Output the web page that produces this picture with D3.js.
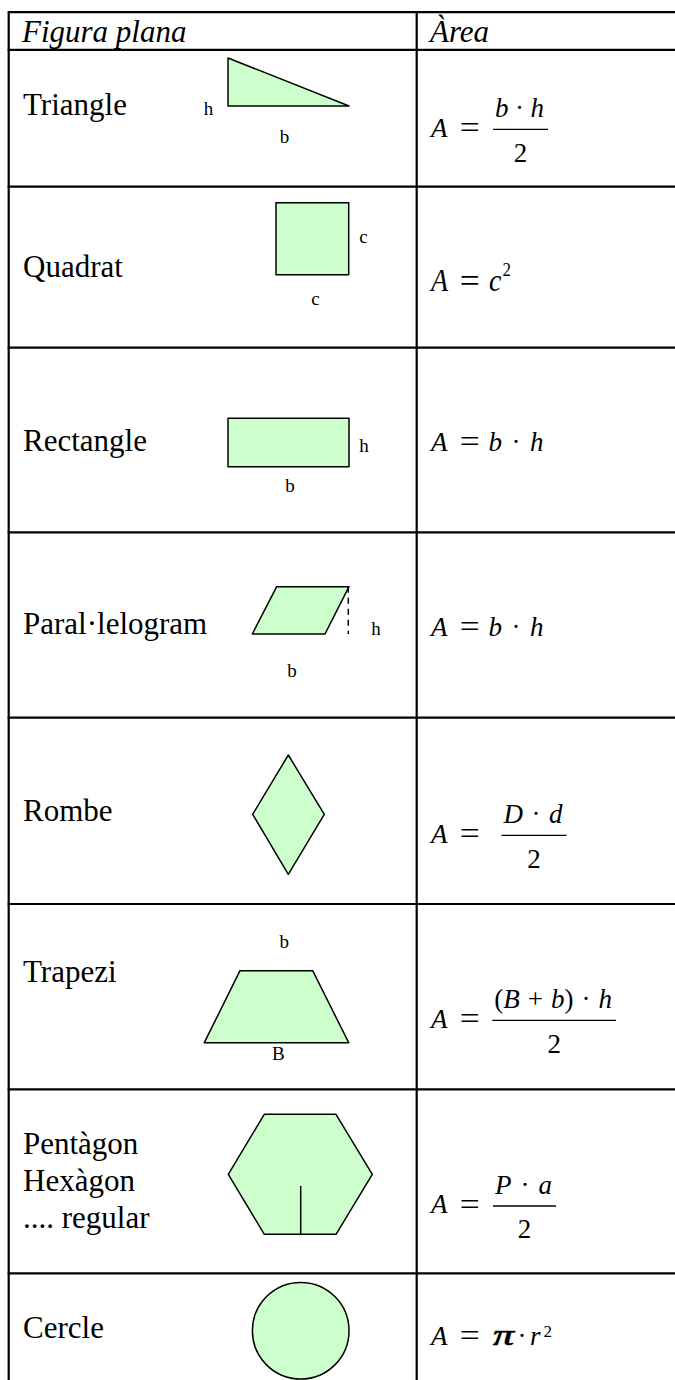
<!DOCTYPE html>
<html><head><meta charset="utf-8">
<script src="https://cdn.jsdelivr.net/npm/d3@7"></script>
<style>html,body{margin:0;padding:0;background:#fff;} svg{display:block;}</style>
</head><body><svg id="chart" width="675" height="1380"></svg>
<script>
// ---------- DATA ----------
const headers = ["Figura plana", "Àrea"];
const figureNames = ["Triangle", "Quadrat", "Rectangle", "Paral·lelogram", "Rombe", "Trapezi", "Pentàgon\nHexàgon\n.... regular", "Cercle"];
const figureShapes = ["triangle", "square", "rectangle", "parallelogram", "rhombus", "trapezoid", "hexagon", "circle"];
const shapeLabels = [["h", "b"], ["c", "c"], ["h", "b"], ["h", "b"], [], ["b", "B"], [], []];
const areaNumerators = ["b · h", "c^2", "b · h", "b · h", "D · d", "(B + b) · h", "P · a", "π · r^2"];
const areaDenominators = ["2", "", "", "", "2", "2", "2", ""];

// ---------- LAYOUT ----------
const W = 675, H = 1380;
const tableTop = 12.2, leftX = 8.7, colX = 416.7;
const headerH = 37.6;
const rowH = [136.9, 161, 184.6, 185.4, 186.3, 185.3, 184, 184];
const labelBase = [65.2, 90, 103, 101.7, 103, 77.7, 64.7, 65];
const formulaBase = [86.9, 104, 103.3, 103.7, 125, 123.7, 124, 71.7];
const exprStart = [493, 489, 488.6, 488.6, 501.5, 492.3, 493, 493];
const exprGap = [6.5, 0, 9.5, 9.5, 8.5, 8, 9, 3.5];
const FILL = "#ccffcc";
const SERIF = "'Liberation Serif','Times New Roman',Times,serif";

// shape geometry relative to row top (px)
const shapeGeom = {
  triangle: { poly: [[228, 8.2], [228, 56.2], [349, 56.2]], labels: [[208.5, 65.2], [284.5, 93.2]] },
  square: { poly: [[276, 16], [348.7, 16], [348.7, 88], [276, 88]], labels: [[363.5, 56], [315.5, 118.3]] },
  rectangle: { poly: [[228, 70.6], [349, 70.6], [349, 119], [228, 119]], labels: [[364, 104], [290, 144]] },
  parallelogram: { poly: [[276.7, 54.4], [349, 54.4], [325, 101.7], [252.3, 101.7]], labels: [[376, 102.7], [292, 144.4]], dash: [[348.3, 54.4], [348.3, 101.7]] },
  rhombus: { poly: [[288.3, 37.3], [324.3, 96.6], [288.3, 156.6], [252.7, 96.6]], labels: [] },
  trapezoid: { poly: [[240, 66.7], [312.7, 66.7], [348.7, 138.7], [204.3, 138.7]], labels: [[284.3, 44.3], [278.3, 156]] },
  hexagon: { poly: [[264.3, 25], [336, 25], [372.3, 85], [336, 145], [264.3, 145], [228.3, 85]], labels: [], solid: [[300.7, 96.7], [300.7, 145]] },
  circle: { circle: [300.7, 57.4, 48.3], labels: [] }
};

const svg = d3.select("#chart").attr("font-family", SERIF);

const rowTops = [tableTop + headerH].concat(Array.from(d3.cumsum(rowH), v => tableTop + headerH + v));
const y = d3.scaleOrdinal().domain(d3.range(figureNames.length)).range(rowTops);

// ---------- TABLE GRID ----------
const grid = svg.append("g").attr("stroke", "#000").attr("stroke-width", 2.2);
grid.selectAll("line.h").data([tableTop].concat(rowTops.slice(0, figureNames.length)))
  .join("line").attr("class", "h").attr("x1", leftX - 1).attr("x2", W).attr("y1", d => d).attr("y2", d => d);
grid.append("line").attr("x1", leftX).attr("x2", leftX).attr("y1", tableTop).attr("y2", H);
grid.append("line").attr("x1", colX).attr("x2", colX).attr("y1", tableTop).attr("y2", H);

// ---------- HEADERS ----------
svg.selectAll("text.hdr").data(headers).join("text").attr("class", "hdr")
  .attr("x", (d, i) => i === 0 ? 22 : 430).attr("y", tableTop + 29.5)
  .attr("font-size", 31).attr("font-style", "italic").text(d => d);

// ---------- FIGURE NAMES ----------
const names = svg.append("g").attr("font-size", 31);
figureNames.forEach((nm, i) => {
  nm.split("\n").forEach((line, k) => {
    names.append("text").attr("x", 23).attr("y", y(i) + labelBase[i] + k * 37).text(line);
  });
});

// ---------- SHAPES ----------
const line = d3.line();
const shapes = svg.append("g");
figureShapes.forEach((kind, i) => {
  const gm = shapeGeom[kind];
  const g = shapes.append("g").attr("transform", `translate(0,${y(i)})`);
  if (gm.poly) g.append("path").attr("d", line(gm.poly) + "Z").attr("fill", FILL).attr("stroke", "#000").attr("stroke-width", 1.5).attr("stroke-linejoin", "round");
  if (gm.circle) g.append("circle").attr("cx", gm.circle[0]).attr("cy", gm.circle[1]).attr("r", gm.circle[2]).attr("fill", FILL).attr("stroke", "#000").attr("stroke-width", 1.5);
  if (gm.dash) g.append("path").attr("d", line(gm.dash)).attr("stroke", "#000").attr("stroke-width", 1.5).attr("stroke-dasharray", "6,5");
  if (gm.solid) g.append("path").attr("d", line(gm.solid)).attr("stroke", "#000").attr("stroke-width", 1.5);
  g.selectAll("text").data(shapeLabels[i]).join("text")
    .attr("x", (d, k) => gm.labels[k][0]).attr("y", (d, k) => gm.labels[k][1])
    .attr("text-anchor", "middle").attr("font-size", 19).text(d => d);
});

// ---------- FORMULAS ----------
function tokenize(s) {
  const out = []; let gap = false;
  for (let i = 0; i < s.length; i++) {
    const ch = s[i];
    if (ch === " ") { gap = true; continue; }
    if (ch === "^") { out.push({ t: s[i + 1], sup: true, gap }); i++; gap = false; continue; }
    out.push({ t: ch, italic: /[A-Za-zπ]/.test(ch), gap }); gap = false;
  }
  return out;
}
function drawExpr(g, s, x, by, o) {
  let cx = x;
  tokenize(s).forEach((tk, i) => {
    if (i > 0) cx += tk.sup ? o.supGap : (tk.gap ? o.gap : 0);
    const t = g.append("text").attr("x", cx).attr("y", tk.sup ? by - o.supRaise : by)
      .attr("font-size", tk.sup ? o.supSize : o.size)
      .attr("font-style", tk.italic ? "italic" : "normal").text(tk.t);
    if (tk.t === "π") {
      t.attr("textLength", 21).attr("lengthAdjust", "spacingAndGlyphs").attr("font-size", o.size + 2)
        .attr("stroke", "#000").attr("stroke-width", 0.7);
      cx += 21;
    } else cx += t.node().getComputedTextLength();
  });
  return cx - x;
}

const formulas = svg.append("g");
areaNumerators.forEach((num, i) => {
  const quad = i === 1;
  const size = quad ? 28 : 27;
  const o = { size, gap: exprGap[i], supGap: quad ? 1 : 3, supSize: 17, supRaise: quad ? 13.4 : 8.3 };
  const g = formulas.append("g").attr("transform", `translate(0,${y(i) + formulaBase[i]})` + (quad ? " scale(1,1.1)" : ""));
  g.append("text").attr("x", 431).attr("y", 0).attr("font-size", size).attr("font-style", "italic").text("A");
  g.append("text").attr("x", 469.8).attr("y", 1.4).attr("font-size", 31).attr("text-anchor", "middle")
    .attr("textLength", 20).attr("lengthAdjust", "spacingAndGlyphs").text("=");
  const den = areaDenominators[i];
  if (!den) {
    drawExpr(g, num, exprStart[i], 0, o);
  } else {
    const barY = -7.3;
    const w = drawExpr(g, num, exprStart[i] + 2, barY - 12.3, o);
    const bw = w + 6;
    g.append("line").attr("x1", exprStart[i]).attr("x2", exprStart[i] + bw).attr("y1", barY).attr("y2", barY)
      .attr("stroke", "#000").attr("stroke-width", 1.3);
    g.append("text").attr("x", exprStart[i] + bw / 2).attr("y", barY + 32.3).attr("text-anchor", "middle")
      .attr("font-size", 27).text(den);
  }
});
</script></body></html>
